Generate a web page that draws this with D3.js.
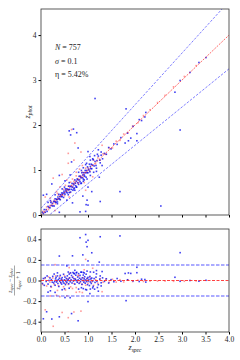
<!DOCTYPE html>
<html>
<head>
<meta charset="utf-8">
<script src="https://cdn.jsdelivr.net/npm/d3@7"></script>
<style>
  html, body { margin: 0; padding: 0; background: #fff; }
  svg text { font-family: "Liberation Serif", "DejaVu Serif", serif; fill: #222; }
</style>
</head>
<body>
<div id="chart"></div>
<script>
// z_spec vs z_phot, two samples (blue / red)
const bluePoints = [
  [0.03,0.06],[0.05,0.03],[0.07,0.12],[0.09,0.06],[0.11,0.12],[0.13,0.08],[0.15,0.19],[0.17,0.17],
  [0.19,0.16],[0.21,0.28],[0.22,0.21],[0.24,0.26],[0.25,0.20],[0.27,0.30],[0.28,0.20],[0.29,0.30],
  [0.30,0.36],[0.31,0.29],[0.32,0.28],[0.33,0.35],[0.34,0.34],[0.35,0.29],[0.36,0.40],[0.37,0.36],
  [0.38,0.46],[0.39,0.36],[0.40,0.41],[0.41,0.34],[0.42,0.45],[0.43,0.41],[0.44,0.49],[0.45,0.41],
  [0.46,0.46],[0.47,0.49],[0.48,0.39],[0.49,0.53],[0.50,0.49],[0.51,0.46],[0.52,0.58],[0.53,0.54],
  [0.54,0.51],[0.55,0.58],[0.56,0.49],[0.57,0.57],[0.58,0.56],[0.59,0.64],[0.60,0.50],[0.61,0.57],
  [0.62,0.64],[0.63,0.51],[0.64,0.63],[0.65,0.57],[0.66,0.70],[0.67,0.62],[0.68,0.55],[0.69,0.70],
  [0.70,0.67],[0.71,0.60],[0.72,0.78],[0.73,0.71],[0.74,0.65],[0.75,0.75],[0.76,0.62],[0.77,0.80],
  [0.78,0.72],[0.79,0.78],[0.80,0.68],[0.81,0.86],[0.82,0.78],[0.83,0.74],[0.84,0.86],[0.85,0.83],
  [0.86,0.71],[0.87,0.94],[0.88,0.83],[0.89,0.89],[0.90,0.80],[0.91,0.94],[0.92,0.89],[0.93,0.86],
  [0.94,0.99],[0.95,0.94],[0.96,0.84],[0.97,0.99],[0.98,0.94],[0.99,1.07],[1.00,0.94],[1.01,1.02],
  [1.02,1.00],[1.03,1.13],[1.04,0.96],[1.05,1.08],[1.06,1.03],[1.07,1.13],[1.08,1.03],[1.10,1.11],
  [1.11,1.23],[1.13,1.09],[1.15,1.19],[1.17,1.10],[1.19,1.21],[1.22,1.31],[1.25,1.22],[1.28,1.33],
  [1.31,1.25],[1.35,1.37],[1.39,1.35],[1.44,1.50],[1.49,1.47],[1.55,1.58],[1.62,1.57],[1.70,1.72],
  [1.79,1.60],[1.84,1.82],[1.86,1.65],[1.91,1.71],[1.96,1.97],[2.04,1.65],[2.04,1.81],[2.09,2.12],
  [2.14,2.10],[2.23,2.28],[2.21,2.18],[2.85,2.73],[2.96,2.99],[3.17,3.17],[3.36,3.39],[3.51,3.50],
  // scatter and outliers
  [0.05,0.44],[0.12,0.46],[0.23,0.69],[0.39,0.88],[0.51,0.76],[0.62,0.89],[0.65,1.18],[0.79,1.49],
  [0.60,1.87],[0.69,1.91],[0.76,1.83],[0.63,1.78],[1.15,2.59],[1.81,2.36],[2.96,1.89],[1.68,0.52],
  [2.55,0.20],[0.83,0.07],[0.95,0.08],[0.96,0.23],[0.98,0.33],[0.89,0.42],[0.67,0.27],[0.55,0.33],
  [1.00,0.62],[1.18,0.97],[0.39,0.06],[1.26,0.30],[1.00,0.22],[1.08,0.52],[1.24,0.84],[1.18,1.04],
  [1.26,1.16],[1.00,1.41],[1.04,1.30],[0.90,1.05],[0.95,1.12],[1.10,1.25],[1.20,1.35],[0.85,0.70],
  [0.75,0.62],[0.70,0.58],[0.90,0.75],[1.05,0.88],[0.45,0.58],[0.30,0.45],[0.50,0.62],[0.20,0.32],
  [0.60,0.72],[0.80,0.95],[0.72,0.55],[0.92,0.78],[1.12,0.95],[1.30,1.10],[0.98,0.80],[0.58,0.45],
  [0.35,0.25],[0.15,0.28],[1.14,1.32],[1.22,1.45],[1.28,1.40],[1.05,1.22],[0.97,1.15],[0.86,0.99]
];

const redPoints = [
  [0.04,0.08],[0.08,0.06],[0.12,0.18],[0.16,0.12],[0.19,0.21],[0.22,0.30],[0.25,0.22],[0.28,0.33],
  [0.31,0.25],[0.34,0.35],[0.37,0.44],[0.40,0.35],[0.42,0.45],[0.45,0.44],[0.48,0.57],[0.50,0.43],
  [0.53,0.57],[0.55,0.53],[0.58,0.64],[0.60,0.56],[0.63,0.73],[0.65,0.65],[0.68,0.62],[0.70,0.75],
  [0.73,0.70],[0.75,0.87],[0.78,0.80],[0.80,0.72],[0.83,0.87],[0.85,0.83],[0.88,0.95],[0.90,0.85],
  [0.93,0.94],[0.95,1.04],[0.98,0.95],[1.00,1.05],[1.04,0.98],[1.08,1.11],[1.12,1.22],[1.16,1.14],
  [1.21,1.27],[1.26,1.22],[1.32,1.36],[1.38,1.35],[1.45,1.49],[1.52,1.49],[1.60,1.64],[1.68,1.66],
  [1.76,1.80],[1.85,1.83],[1.95,1.98],[2.06,2.05],[2.18,2.21],[2.32,2.34],[2.48,2.50],[2.64,2.66],
  [2.82,2.85],[3.05,3.08],[3.30,3.32],
  // scatter and outliers
  [0.09,0.40],[0.26,0.82],[0.58,1.15],[0.58,1.37],[0.79,0.70],[0.30,0.10],[0.65,1.90],[0.70,1.22],
  [0.45,0.90],[0.85,1.40],[1.10,0.85],[0.95,0.55],[0.40,0.62],[0.55,0.78],[0.75,0.95],[0.60,0.40],
  [0.35,0.48],[0.88,1.10],[0.20,0.38],[1.30,1.55],[0.72,1.60],[0.52,0.66],[0.67,0.80],[0.82,1.02],
  [0.33,0.52],[0.92,0.72],[0.62,0.50]
];

const xTicks = [0, 0.5, 1, 1.5, 2, 2.5, 3, 3.5, 4];
const topYTicks = [0, 1, 2, 3, 4];
const resYTicks = [-0.4, -0.2, 0, 0.2, 0.4];
const statLines = [
  [{ t: "N", it: true }, { t: " = 757" }],
  [{ t: "σ", it: true }, { t: " = 0.1" }],
  [{ t: "η", it: false }, { t: " = 5.42%" }]
];
const outlierCut = 0.15;

const W = 240, H = 360;
const left = 41, right = 229;
const top1 = 9, bot1 = 215;
const top2 = 229, bot2 = 332;

const svg = d3.select("#chart").append("svg")
  .attr("width", W).attr("height", H);

const x = d3.scaleLinear().domain([0, 4]).range([left, right]);
const y1 = d3.scaleLinear().domain([0, 4.58]).range([bot1, top1]);
const y2 = d3.scaleLinear().domain([-0.5, 0.5]).range([bot2, top2]);

const resid = d => (d[0] - d[1]) / (1 + d[0]);

// clip paths
const defs = svg.append("defs");
defs.append("clipPath").attr("id", "clip1").append("rect")
  .attr("x", left).attr("y", top1).attr("width", right - left).attr("height", bot1 - top1);
defs.append("clipPath").attr("id", "clip2").append("rect")
  .attr("x", left).attr("y", top2).attr("width", right - left).attr("height", bot2 - top2);

// ---------- top panel ----------
const p1 = svg.append("g").attr("clip-path", "url(#clip1)");

const ptSize = 1.6;
function drawPoints(g, data, yFn, color, op) {
  g.append("g").selectAll("rect")
    .data(data)
    .join("rect")
    .attr("x", d => x(d[0]) - ptSize / 2)
    .attr("y", d => yFn(d) - ptSize / 2)
    .attr("width", ptSize).attr("height", ptSize)
    .attr("fill", color)
    .attr("fill-opacity", op);
}

drawPoints(p1, redPoints, d => y1(d[1]), "#ff2020", 0.45);
drawPoints(p1, bluePoints, d => y1(d[1]), "#0000ee", 0.75);

const lineX = [0, 4];
const line1 = fn => d3.line().x(v => x(v)).y(v => y1(fn(v)));
p1.append("path").datum(lineX)
  .attr("d", line1(v => v + outlierCut * (1 + v)))
  .attr("fill", "none").attr("stroke", "#3333ff").attr("stroke-opacity", 0.7)
  .attr("stroke-width", 0.9).attr("stroke-dasharray", "2.5,1.5");
p1.append("path").datum(lineX)
  .attr("d", line1(v => v - outlierCut * (1 + v)))
  .attr("fill", "none").attr("stroke", "#3333ff").attr("stroke-opacity", 0.7)
  .attr("stroke-width", 0.9).attr("stroke-dasharray", "2.5,1.5");
p1.append("path").datum(lineX)
  .attr("d", line1(v => v))
  .attr("fill", "none").attr("stroke", "#ff2020").attr("stroke-opacity", 0.85)
  .attr("stroke-width", 0.8).attr("stroke-dasharray", "2,1.2");

// axes top
svg.append("g")
  .attr("transform", `translate(${left},0)`)
  .call(d3.axisLeft(y1).tickValues(topYTicks).tickSize(2.5).tickPadding(2).tickFormat(d3.format("d")))
  .call(g => g.select(".domain").remove())
  .call(g => g.selectAll("text").style("font-size", "7.5px"));

svg.append("g")
  .attr("transform", `translate(0,${bot1})`)
  .call(d3.axisBottom(x).tickValues(xTicks).tickSize(2.5).tickFormat(""))
  .call(g => g.select(".domain").remove());

svg.append("rect")
  .attr("x", left).attr("y", top1).attr("width", right - left).attr("height", bot1 - top1)
  .attr("fill", "none").attr("stroke", "#333").attr("stroke-width", 0.8);

// stats text
const stats = svg.append("g").style("font-size", "8px");
statLines.forEach((parts, i) => {
  const t = stats.append("text").attr("x", 55).attr("y", 50 + i * 13.5);
  parts.forEach(p => t.append("tspan").text(p.t).style("font-style", p.it ? "italic" : "normal"));
});

// y label top
const yl = svg.append("text")
  .attr("transform", `translate(30,${(top1 + bot1) / 2}) rotate(-90)`)
  .attr("text-anchor", "middle")
  .style("font-size", "8px");
yl.append("tspan").text("z").style("font-style", "italic");
yl.append("tspan").text("phot").style("font-size", "5.5px").style("font-style", "italic").attr("dy", 2);

// ---------- bottom panel ----------
const p2 = svg.append("g").attr("clip-path", "url(#clip2)");

drawPoints(p2, redPoints, d => y2(resid(d)), "#ff2020", 0.45);
drawPoints(p2, bluePoints, d => y2(resid(d)), "#0000ee", 0.75);

const hline = (g, v, color, w, dash, op) => g.append("line")
  .attr("x1", x(0)).attr("x2", x(4)).attr("y1", y2(v)).attr("y2", y2(v))
  .attr("stroke", color).attr("stroke-width", w).attr("stroke-dasharray", dash)
  .attr("stroke-opacity", op);
hline(p2, outlierCut, "#3333ff", 1.4, "3.5,1.5", 0.55);
hline(p2, -outlierCut, "#3333ff", 1.4, "3.5,1.5", 0.55);
hline(p2, 0, "#ff2020", 1.0, "3,1.5", 0.85);

svg.append("g")
  .attr("transform", `translate(${left},0)`)
  .call(d3.axisLeft(y2).tickValues(resYTicks).tickSize(2.5).tickPadding(2)
    .tickFormat(d => d3.format(".1f")(d).replace("-", "\u2212")))
  .call(g => g.select(".domain").remove())
  .call(g => g.selectAll("text").style("font-size", "7.5px"));

svg.append("g")
  .attr("transform", `translate(0,${bot2})`)
  .call(d3.axisBottom(x).tickValues(xTicks).tickSize(2.5).tickPadding(2).tickFormat(d3.format(".1f")))
  .call(g => g.select(".domain").remove())
  .call(g => g.selectAll("text").style("font-size", "7.5px"));

svg.append("rect")
  .attr("x", left).attr("y", top2).attr("width", right - left).attr("height", bot2 - top2)
  .attr("fill", "none").attr("stroke", "#333").attr("stroke-width", 0.8);

// x label
const xl = svg.append("text")
  .attr("x", (left + right) / 2).attr("y", 350)
  .attr("text-anchor", "middle")
  .style("font-size", "8px");
xl.append("tspan").text("z").style("font-style", "italic");
xl.append("tspan").text("spec").style("font-size", "5.5px").style("font-style", "italic").attr("dy", 2);

// y label bottom (fraction)
const frac = svg.append("g")
  .attr("transform", `translate(14,${(top2 + bot2) / 2}) rotate(-90)`)
  .style("font-size", "5.5px");
const num = frac.append("text").attr("text-anchor", "middle").attr("y", -2);
num.append("tspan").text("z").style("font-style", "italic");
num.append("tspan").text("spec").style("font-size", "4px").style("font-style", "italic").attr("dy", 1);
num.append("tspan").text(" \u2212 ").attr("dy", -1);
num.append("tspan").text("z").style("font-style", "italic");
num.append("tspan").text("phot").style("font-size", "4px").style("font-style", "italic").attr("dy", 1);
frac.append("line").attr("x1", -15).attr("x2", 15).attr("y1", 0.5).attr("y2", 0.5)
  .attr("stroke", "#222").attr("stroke-width", 0.4);
const den = frac.append("text").attr("text-anchor", "middle").attr("y", 6);
den.append("tspan").text("z").style("font-style", "italic");
den.append("tspan").text("spec").style("font-size", "4px").style("font-style", "italic").attr("dy", 1);
den.append("tspan").text(" + 1").attr("dy", -1);
</script>
</body>
</html>
